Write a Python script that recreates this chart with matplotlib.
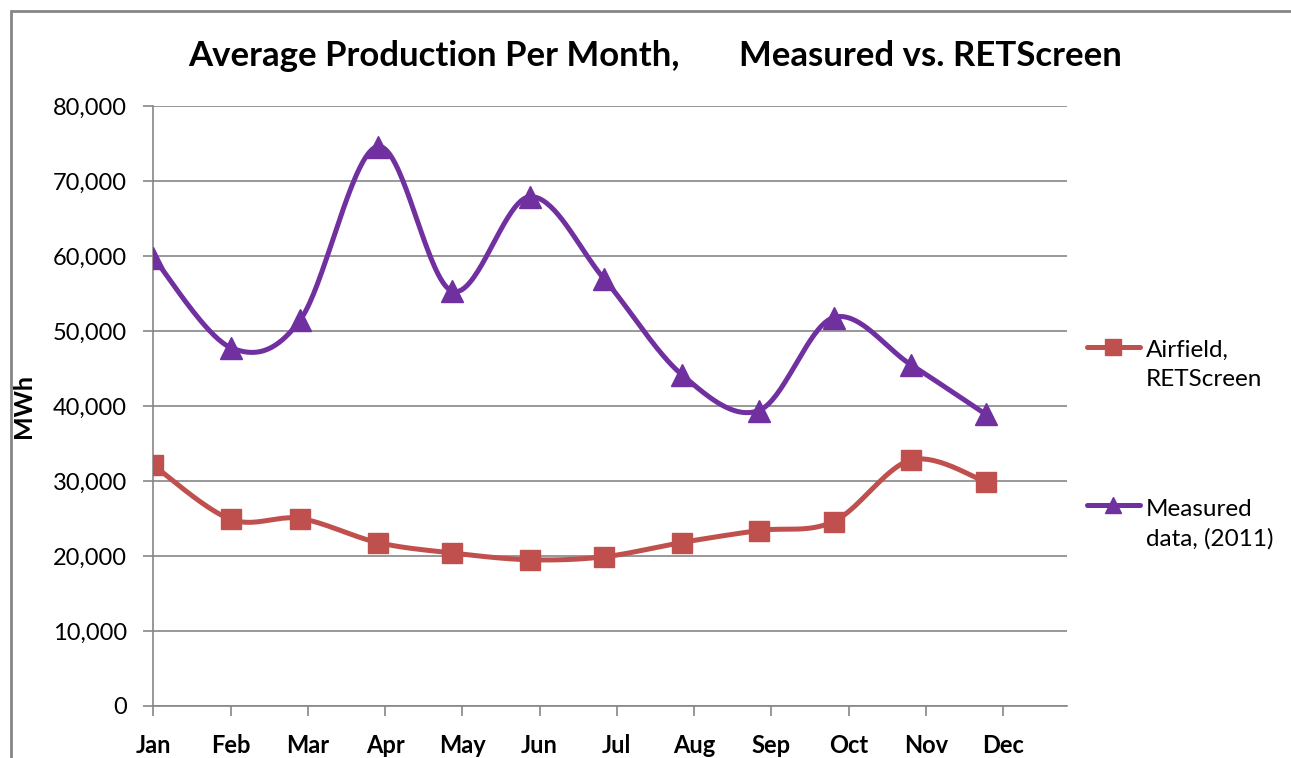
import numpy as np
import matplotlib.pyplot as plt
import matplotlib.dates as mdates
from matplotlib.lines import Line2D
from matplotlib.patches import Rectangle

plt.rcParams['font.family'] = ['Lato', 'DejaVu Sans']

# data
months = ['Jan', 'Feb', 'Mar', 'Apr', 'May', 'Jun',
          'Jul', 'Aug', 'Sep', 'Oct', 'Nov', 'Dec']
dates = ['2011-01-01', '2011-02-01', '2011-03-01', '2011-04-01',
         '2011-05-01', '2011-06-01', '2011-07-01', '2011-08-01',
         '2011-09-01', '2011-10-01', '2011-11-01', '2011-12-01']
retscreen = [32100, 24900, 25000, 21800, 20400, 19500,
             19900, 21800, 23400, 24600, 32800, 29900]
measured = [59800, 47800, 51500, 74600, 55300, 67900,
            56900, 44200, 39400, 51800, 45500, 38900]

red = '#C0504D'
purple = '#7030A0'
grey = '#868686'

W, H = 1291, 758
fig = plt.figure(figsize=(W / 100, H / 100), dpi=100)
ax = fig.add_axes([153.3 / W, 1 - 706 / H, (1066.7 - 153.3) / W, 600 / H])

x = mdates.datestr2num(dates)
x0 = x[0]
ax.set_xlim(x0, x0 + 366.5)
ax.set_ylim(0, 80000)


def smooth(ax, xs, ys, n=40):
    # excel-like bezier smoothing, done in screen space
    p = ax.transData.transform(np.column_stack([xs, ys]))
    out = [p[0]]
    t = np.linspace(0, 1, n)[1:, None]
    for i in range(len(p) - 1):
        prev = p[i - 1] if i > 0 else p[i]
        nxt = p[i + 2] if i + 2 < len(p) else p[i + 1]
        c1 = p[i] + (p[i + 1] - prev) / 6
        c2 = p[i + 1] - (nxt - p[i]) / 6
        seg = ((1 - t) ** 3 * p[i] + 3 * (1 - t) ** 2 * t * c1
               + 3 * (1 - t) * t ** 2 * c2 + t ** 3 * p[i + 1])
        out.extend(seg)
    d = ax.transData.inverted().transform(np.array(out))
    return d[:, 0], d[:, 1]


for ys, col, mk, ms in [(retscreen, red, 's', 14.5), (measured, purple, '^', 15.5)]:
    sx, sy = smooth(ax, x, ys)
    ax.plot(sx, sy, color=col, lw=3.6, solid_capstyle='round', zorder=3)
    ax.plot(x, ys, ls='none', marker=mk, ms=ms, color=col, zorder=4)

ax.set_yticks(np.arange(0, 80001, 10000))
ax.yaxis.set_major_formatter(plt.FuncFormatter(lambda v, p: f'{int(v):,}'))
ax.set_xticks([x0 + 31 * k for k in range(12)])
ax.set_xticklabels(months, fontweight='bold')
ax.grid(axis='y', color=grey, lw=1.2)
ax.set_axisbelow(True)
for s in ['top', 'right']:
    ax.spines[s].set_visible(False)
for s in ['left', 'bottom']:
    ax.spines[s].set_color(grey)
    ax.spines[s].set_linewidth(1.2)
ax.tick_params(axis='both', colors=grey, length=7, width=1.2, labelcolor='black',
               labelsize=17)
ax.tick_params(axis='x', pad=13)
ax.tick_params(axis='y', pad=12)
ax.set_ylabel('MWh', fontsize=18, fontweight='bold')
ax.yaxis.set_label_coords((35 - 153.3) / (1066.7 - 153.3), 0.5)

fig.text(655 / W, 1 - 56 / H, 'Average Production Per Month,       Measured vs. RETScreen',
         ha='center', va='center', fontsize=25, fontweight='bold')

# legend drawn by hand so the handle sits on the first text line
for yl, yt, col, mk, ms, lab in [(347, 365, red, 's', 11, 'Airfield,\nRETScreen'),
                                 (505, 524, purple, '^', 12, 'Measured\ndata, (2011)')]:
    fig.add_artist(Line2D([1087 / W, 1140 / W], [1 - yl / H, 1 - yl / H], color=col,
                          lw=3.6, solid_capstyle='round', transform=fig.transFigure))
    fig.add_artist(Line2D([1113 / W], [1 - yl / H], ls='none', marker=mk, ms=ms, color=col,
                          transform=fig.transFigure))
    fig.text(1146 / W, 1 - yt / H, lab, ha='left', va='center', fontsize=17.5,
             linespacing=1.45)

fig.add_artist(Rectangle((11 / W, -0.1), 1.2, 1.1 - 11 / H, fill=False,
                         edgecolor=grey, lw=2, transform=fig.transFigure))

fig.savefig('out.png', dpi=100)
